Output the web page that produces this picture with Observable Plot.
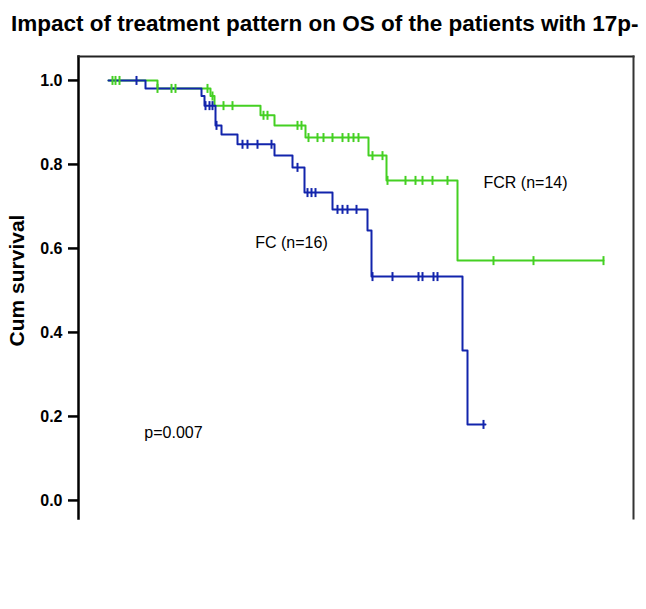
<!DOCTYPE html>
<html>
<head>
<meta charset="utf-8">
<script src="https://cdn.jsdelivr.net/npm/d3@7"></script>
<script src="https://cdn.jsdelivr.net/npm/@observablehq/plot@0.6"></script>
<style>
  body { margin: 0; background: #fff; font-family: "Liberation Sans", Arial, sans-serif; }
  #title { height: 44px; line-height: 48px; font-size: 22.5px; font-weight: bold; padding-left: 11px; color: #000; white-space: nowrap; }
</style>
</head>
<body>
<div id="title">Impact of treatment pattern on OS of the patients with 17p-</div>
<div id="chart"></div>
<script>
// FCR (n=14): step points (time, cumulative survival)
const fcrTime = [0, 9.8, 20.4, 21.2, 30.4, 33.2, 39.4, 52, 55.6, 69.8, 99];
const fcrSurv = [1, 0.981, 0.963, 0.940, 0.917, 0.893, 0.864, 0.821, 0.762, 0.571, 0.571];
// FCR censored observations
const fcrCensorTime = [0.8, 1.4, 2.2, 9.8, 12.6, 13.4, 19.8, 20.8, 23, 24.8, 31, 31.8, 37.8, 38.6,
  40, 41.8, 43, 44.8, 46.8, 48, 49, 50, 52.8, 54.8, 55.8, 59.4, 61.4, 62.8, 64.8, 67.8, 77, 85, 99];
const fcrCensorSurv = [1, 1, 1, 0.981, 0.981, 0.981, 0.981, 0.963, 0.940, 0.940, 0.917, 0.917, 0.893, 0.893,
  0.864, 0.864, 0.864, 0.864, 0.864, 0.864, 0.864, 0.864, 0.821, 0.821, 0.762, 0.762, 0.762, 0.762, 0.762, 0.762, 0.571, 0.571, 0.571];

// FC (n=16)
const fcTime = [0, 7.4, 18.6, 19.2, 21.4, 22.6, 25.8, 33.2, 36.8, 39.2, 44.8, 51.8, 52.6, 70.8, 71.8, 75.4];
const fcSurv = [1, 0.981, 0.963, 0.940, 0.893, 0.871, 0.848, 0.821, 0.793, 0.733, 0.693, 0.643, 0.533, 0.357, 0.181, 0.181];
const fcCensorTime = [5.6, 19.4, 20.2, 20.8, 21.6, 26.8, 27.8, 29.8, 32.6, 37.8, 39.8, 40.6, 41.4,
  45.8, 46.8, 47.8, 49.6, 52.8, 56.8, 62, 62.8, 65, 65.8, 75];
const fcCensorSurv = [1, 0.940, 0.940, 0.940, 0.893, 0.848, 0.848, 0.848, 0.848, 0.793, 0.733, 0.733, 0.733,
  0.693, 0.693, 0.693, 0.693, 0.533, 0.533, 0.533, 0.533, 0.533, 0.533, 0.181];

const yTicks = [0, 0.2, 0.4, 0.6, 0.8, 1.0];

// annotations (time, survival, text)
const noteTime = [36.6, 83.4, 13];
const noteSurv = [0.614, 0.755, 0.162];
const noteText = ["FC (n=16)", "FCR (n=14)", "p=0.007"];

const green = "#44d022";
const blue = "#1224ac";

const fcrLine = fcrTime.map((t, i) => ({t, s: fcrSurv[i]}));
const fcLine = fcTime.map((t, i) => ({t, s: fcSurv[i]}));
const fcrCens = fcrCensorTime.map((t, i) => ({t, s: fcrCensorSurv[i]}));
const fcCens = fcCensorTime.map((t, i) => ({t, s: fcCensorSurv[i]}));
const notes = noteText.map((text, i) => ({t: noteTime[i], s: noteSurv[i], text}));

const vbar = {
  draw(context, size) {
    const h = Math.sqrt(size / Math.PI);
    context.moveTo(0, -h);
    context.lineTo(0, h);
  }
};

const chart = Plot.plot({
  width: 646,
  height: 565,
  marginTop: 12,
  marginBottom: 91,
  marginLeft: 78,
  marginRight: 13,
  style: {fontFamily: "'Liberation Sans', Arial, sans-serif", background: "#fff", color: "#000"},
  x: {domain: [-6, 105], axis: null},
  y: {domain: [-0.043, 1.057], axis: null},
  marks: [
    Plot.axisY({ticks: yTicks, tickFormat: d => d.toFixed(1), tickSize: 10, tickPadding: 6,
      label: null, fontSize: 16, fontWeight: "bold", strokeWidth: 2.5}),
    Plot.text(["Cum survival"], {frameAnchor: "left", textAnchor: "middle", rotate: -90, dx: -61, dy: -7,
      text: d => d, fontSize: 21, fontWeight: "bold"}),
    Plot.frame({anchor: "left", stroke: "#000", strokeWidth: 2.5}),
    Plot.frame({anchor: "top", stroke: "#222", strokeWidth: 2}),
    Plot.frame({anchor: "right", stroke: "#333", strokeWidth: 2}),
    Plot.line(fcrLine, {x: "t", y: "s", curve: "step-after", stroke: green, strokeWidth: 2}),
    Plot.line(fcLine, {x: "t", y: "s", curve: "step-after", stroke: blue, strokeWidth: 2}),
    Plot.dot(fcrCens, {x: "t", y: "s", symbol: vbar, r: 4.5, stroke: green, strokeWidth: 2, fill: "none"}),
    Plot.dot(fcCens, {x: "t", y: "s", symbol: vbar, r: 4.5, stroke: blue, strokeWidth: 2, fill: "none"}),
    Plot.text(notes, {x: "t", y: "s", text: "text", fontSize: 16, fill: "#000"})
  ]
});
document.getElementById("chart").appendChild(chart);
</script>
</body>
</html>
